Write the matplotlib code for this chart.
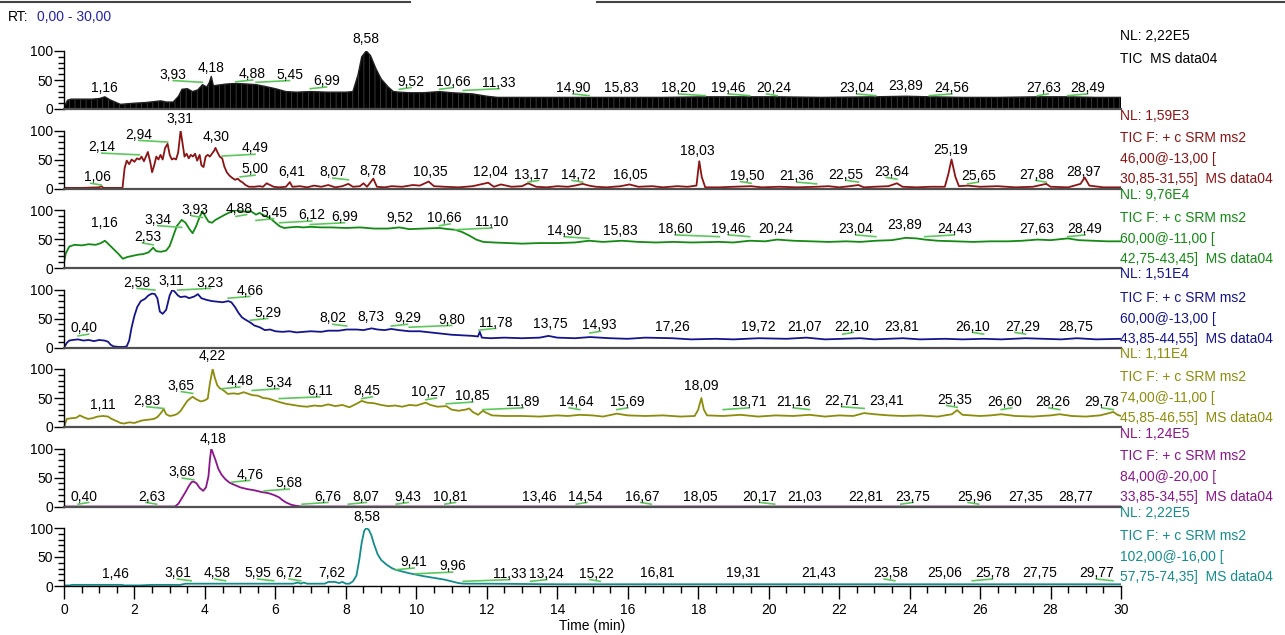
import matplotlib
matplotlib.use("Agg")
import matplotlib.pyplot as plt
from matplotlib.ticker import MultipleLocator, FixedLocator
from matplotlib.lines import Line2D

plt.rcParams['font.family'] = ['Liberation Sans', 'DejaVu Sans']
plt.rcParams['hatch.linewidth'] = 0.5

# --- chromatogram traces (retention time in min, relative abundance in %) ---

tic_t = [0, 0.1, 0.2, 0.5, 0.8, 1.0, 1.16, 1.3, 1.45, 1.6, 1.8, 2.0, 2.3, 2.6, 2.75, 2.9,
         3.1, 3.25, 3.35, 3.5, 3.65, 3.8, 3.93, 4.05, 4.12, 4.18, 4.24, 4.35, 4.6, 4.88,
         5.2, 5.45, 5.7, 6.0, 6.3, 6.6, 6.99, 7.5, 8.0, 8.2, 8.35, 8.45, 8.58, 8.7, 8.85,
         9.0, 9.2, 9.35, 9.52, 9.8, 10.2, 10.66, 11.0, 11.33, 11.6, 12.0, 12.3, 13.0, 14.0,
         14.9, 15.83, 17.0, 18.2, 19.46, 20.24, 21.5, 23.04, 23.89, 24.56, 25.5, 26.5,
         27.63, 28.49, 29.3, 30]
tic_y = [3, 15, 17, 17, 17, 18, 21, 16, 12, 8, 9, 10, 11, 13, 14, 12,
         12, 22, 34, 35, 30, 33, 42, 38, 45, 56, 40, 41, 43, 44,
         43, 42, 39, 35, 30, 29, 30, 29, 29, 30, 60, 90, 100, 92, 70,
         52, 38, 30, 29, 28, 28, 30, 28, 27, 26, 22, 20, 20, 20,
         20, 20, 20, 21, 21, 21, 20, 21, 22, 21, 20, 20,
         21, 21, 20, 20]

m46_t = [0, 0.5, 1.0, 1.06, 1.12, 1.6, 1.66, 1.72, 1.78, 1.85, 1.92, 2.0, 2.07, 2.14, 2.2,
         2.27, 2.33, 2.38, 2.45, 2.5, 2.56, 2.62, 2.68, 2.74, 2.8, 2.87, 2.94, 3.0, 3.06,
         3.12, 3.18, 3.24, 3.31, 3.37, 3.42, 3.48, 3.54, 3.6, 3.66, 3.72, 3.78, 3.85, 3.9,
         3.96, 4.02, 4.08, 4.14, 4.2, 4.26, 4.3, 4.36, 4.42, 4.49, 4.55, 4.62, 4.7, 4.78,
         4.86, 4.93, 5.0, 5.08, 5.15, 5.25, 5.4, 5.55, 5.65, 5.75, 5.85, 5.95, 6.1, 6.3,
         6.41, 6.48, 6.7, 6.9, 7.1, 7.3, 7.5, 7.7, 7.9, 8.07, 8.2, 8.4, 8.5, 8.6, 8.78,
         8.88, 9.1, 9.3, 9.6, 9.9, 10.1, 10.35, 10.5, 10.8, 11.2, 11.6, 12.04, 12.2, 12.4,
         12.7, 13.0, 13.17, 13.4, 13.7, 14.0, 14.3, 14.5, 14.72, 14.9, 15.1, 15.4, 15.8,
         16.05, 16.3, 16.7, 17.0, 17.4, 17.7, 17.95, 18.03, 18.1, 18.2, 18.6, 19.0, 19.5,
         19.8, 20.3, 20.8, 21.36, 21.7, 22.0, 22.3, 22.55, 22.7, 23.0, 23.4, 23.64, 23.8,
         24.2, 24.6, 25.0, 25.1, 25.19, 25.3, 25.4, 25.65, 26.0, 26.5, 27.0, 27.5, 27.88,
         28.0, 28.5, 28.85, 28.97, 29.1, 29.5, 30]
m46_y = [1, 1, 2, 4, 1, 1, 1, 35, 48, 42, 50, 46, 52, 50, 55,
         47, 56, 63, 45, 28, 40, 55, 50, 58, 50, 70, 77, 58, 50,
         52, 50, 62, 100, 75, 55, 60, 52, 58, 55, 60, 48, 58, 40,
         37, 55, 58, 55, 60, 65, 70, 62, 55, 52, 38, 28, 22, 18,
         15, 17, 13, 10, 6, 3, 3, 4, 3, 9, 6, 3, 2, 3,
         11, 3, 4, 2, 5, 3, 6, 2, 4, 8, 3, 4, 9, 3, 17,
         3, 2, 4, 3, 6, 5, 12, 4, 3, 2, 4, 10, 3, 7,
         3, 4, 9, 3, 2, 4, 3, 5, 8, 5, 3, 2, 4,
         7, 3, 4, 2, 4, 3, 5, 47, 20, 2, 2, 3, 4,
         2, 3, 2, 3, 4, 2, 4, 6, 2, 3, 4, 9, 3,
         2, 3, 3, 25, 50, 20, 4, 5, 3, 4, 2, 3, 8,
         3, 2, 8, 19, 5, 2, 2]

m60a_t = [0, 0.05, 0.15, 0.3, 0.5, 0.7, 0.9, 1.05, 1.16, 1.25, 1.4, 1.55, 1.67, 1.8, 1.95,
          2.1, 2.25, 2.4, 2.53, 2.62, 2.75, 2.9, 3.0, 3.1, 3.2, 3.34, 3.45, 3.55, 3.65, 3.75,
          3.85, 3.93, 4.0, 4.1, 4.2, 4.3, 4.45, 4.6, 4.75, 4.88, 5.0, 5.15, 5.3, 5.45, 5.55,
          5.7, 5.85, 6.0, 6.12, 6.25, 6.4, 6.6, 6.8, 6.99, 7.3, 7.6, 8.0, 8.4, 8.8, 9.2,
          9.52, 9.8, 10.2, 10.66, 10.9, 11.1, 11.3, 11.5, 11.7, 11.9, 12.2, 12.6, 13.0, 13.5,
          14.0, 14.5, 14.9, 15.3, 15.83, 16.3, 16.8, 17.3, 17.8, 18.6, 19.0, 19.46, 19.9,
          20.24, 20.7, 21.2, 21.7, 22.2, 22.6, 23.04, 23.5, 23.89, 24.2, 24.43, 24.8, 25.3,
          25.8, 26.3, 26.8, 27.2, 27.63, 28.0, 28.49, 28.8, 29.2, 29.6, 30]
m60a_y = [10, 25, 37, 40, 39, 41, 40, 43, 47, 42, 33, 24, 16, 19, 21,
          23, 24, 27, 35, 29, 28, 30, 38, 55, 72, 83, 78, 68, 60, 72,
          88, 98, 90, 80, 78, 83, 88, 93, 97, 100, 98, 97, 98, 92, 95,
          90, 86, 78, 72, 69, 70, 71, 70, 71, 70, 70, 69, 70, 68, 68,
          70, 67, 68, 69, 67, 66, 62, 56, 49, 45, 44, 43, 42, 43,
          43, 44, 47, 45, 47, 45, 44, 45, 44, 45, 44, 47, 46,
          49, 47, 46, 45, 46, 45, 47, 48, 52, 51, 49, 47, 46,
          45, 46, 46, 47, 49, 48, 51, 48, 47, 46, 46]

m60b_t = [0, 0.08, 0.15, 0.25, 0.4, 0.55, 0.7, 0.85, 1.0, 1.15, 1.25, 1.32, 1.4, 1.55, 1.7,
          1.78, 1.85, 1.92, 2.0, 2.08, 2.18, 2.3, 2.4, 2.5, 2.58, 2.65, 2.72, 2.8, 2.9, 3.0,
          3.08, 3.16, 3.23, 3.3, 3.45, 3.55, 3.7, 3.8, 3.9, 4.05, 4.2, 4.35, 4.5, 4.66, 4.75,
          4.85, 4.95, 5.05, 5.15, 5.29, 5.4, 5.55, 5.7, 5.85, 6.0, 6.2, 6.4, 6.6, 6.8, 7.0,
          7.3, 7.5, 7.8, 8.02, 8.3, 8.5, 8.73, 8.9, 9.1, 9.29, 9.5, 9.8, 10.1, 10.4, 10.7,
          11.0, 11.3, 11.6, 11.75, 11.8, 11.86, 12.1, 12.5, 13.0, 13.5, 13.75, 14.0, 14.5,
          14.93, 15.5, 16.0, 16.5, 17.26, 17.8, 18.5, 19.0, 19.72, 20.5, 21.07, 21.6, 22.1,
          22.6, 23.0, 23.81, 24.3, 25.0, 25.5, 26.1, 26.6, 27.29, 27.8, 28.3, 28.75, 29.3, 30]
m60b_y = [0, 8, 12, 13, 14, 12, 13, 11, 13, 12, 10, 5, 2, 1, 1,
          2, 12, 35, 55, 70, 80, 84, 90, 93, 92, 85, 62, 58, 65, 90,
          100, 95, 90, 87, 88, 85, 88, 92, 85, 82, 80, 79, 78, 80, 78,
          70, 60, 52, 48, 43, 38, 35, 30, 31, 28, 27, 28, 26, 27, 28,
          27, 29, 29, 31, 31, 30, 33, 31, 30, 32, 30, 28, 28, 26, 24,
          22, 21, 20, 19, 27, 17, 16, 17, 16, 17, 20, 17, 16,
          18, 16, 15, 17, 16, 14, 15, 14, 16, 15, 17, 14, 15,
          16, 14, 16, 14, 15, 14, 15, 14, 16, 15, 14, 16, 14, 15]

m74_t = [0, 0.08, 0.2, 0.35, 0.45, 0.55, 0.68, 0.8, 0.95, 1.11, 1.25, 1.35, 1.5, 1.6, 1.7,
         1.85, 2.0, 2.1, 2.2, 2.3, 2.45, 2.55, 2.65, 2.75, 2.83, 2.9, 3.0, 3.1, 3.2, 3.3,
         3.4, 3.5, 3.6, 3.65, 3.75, 3.88, 4.0, 4.08, 4.14, 4.22, 4.28, 4.35, 4.42, 4.48,
         4.55, 4.65, 4.8, 4.95, 5.1, 5.2, 5.34, 5.5, 5.65, 5.8, 5.95, 6.11, 6.3, 6.5, 6.7,
         6.9, 7.1, 7.3, 7.5, 7.7, 7.9, 8.1, 8.3, 8.45, 8.6, 8.8, 9.0, 9.2, 9.4, 9.6, 9.8,
         10.0, 10.27, 10.4, 10.6, 10.85, 11.0, 11.2, 11.4, 11.5, 11.6, 11.75, 11.89, 12.0,
         12.15, 12.5, 13.0, 13.5, 14.0, 14.3, 14.64, 15.0, 15.3, 15.69, 16.0, 16.5, 17.0,
         17.5, 17.9, 18.0, 18.09, 18.16, 18.25, 18.71, 19.2, 19.7, 20.2, 20.7, 21.16, 21.6,
         22.0, 22.4, 22.71, 23.0, 23.41, 23.8, 24.3, 24.8, 25.2, 25.35, 25.5, 26.0, 26.3,
         26.6, 27.0, 27.5, 28.0, 28.26, 28.6, 29.0, 29.4, 29.6, 29.78, 29.9, 30]
m74_y = [0, 14, 15, 16, 20, 17, 14, 15, 18, 19, 18, 14, 10, 7, 6,
         8, 7, 9, 11, 12, 13, 14, 17, 24, 31, 22, 19, 20, 22, 27,
         36, 45, 50, 52, 48, 44, 46, 49, 75, 100, 85, 72, 67, 65,
         62, 57, 58, 57, 60, 58, 55, 54, 50, 49, 46, 43, 40, 38, 36,
         35, 37, 36, 39, 36, 38, 34, 40, 45, 42, 41, 38, 36, 37, 35, 38,
         37, 42, 38, 35, 36, 30, 28, 30, 32, 26, 21, 28, 24,
         20, 19, 19, 18, 20, 19, 21, 20, 18, 23, 20, 19, 20,
         18, 19, 30, 50, 30, 20, 19, 21, 18, 20, 19, 21, 18,
         20, 19, 24, 22, 20, 19, 20, 18, 22, 29, 21, 19, 20,
         22, 19, 18, 20, 22, 19, 18, 20, 23, 26, 21, 19]

m84_t = [0, 3.15, 3.25, 3.35, 3.45, 3.55, 3.62, 3.68, 3.76, 3.85, 3.95, 4.03, 4.1, 4.14,
         4.18, 4.24, 4.3, 4.38, 4.47, 4.58, 4.7, 4.85, 5.0, 5.2, 5.4, 5.6, 5.8, 5.95, 6.1,
         6.2, 6.3, 6.45, 6.6, 6.75, 30]
m84_y = [0, 0, 5, 15, 25, 36, 42, 43, 40, 32, 27, 33, 52, 80,
         100, 90, 80, 65, 55, 47, 41, 37, 33, 30, 28, 25, 23, 20, 16,
         11, 7, 3, 1, 0, 0]

m102_t = [0, 0.15, 0.25, 1.0, 1.46, 1.65, 1.7, 2.1, 2.15, 2.5, 3.3, 3.45, 4.0, 4.58, 5.0,
          5.95, 6.5, 6.65, 6.72, 6.8, 6.9, 7.4, 7.5, 7.7, 7.8, 7.9, 8.0, 8.1, 8.2, 8.3, 8.38,
          8.45, 8.52, 8.58, 8.65, 8.72, 8.8, 8.9, 9.0, 9.15, 9.3, 9.41, 9.6, 9.8, 9.96, 10.2,
          10.5, 10.8, 11.0, 11.2, 11.35, 12, 14, 16, 18, 20, 22, 24, 26, 28, 30]
m102_y = [1, 1, 2, 2, 2, 2, 1, 1, 1, 2, 2, 4, 4, 4, 4,
          4, 4, 6, 4, 6, 4, 4, 7, 7, 5, 7, 4, 4, 8, 18, 45,
          75, 95, 100, 97, 88, 72, 55, 45, 37, 31, 28, 25, 22, 20, 17,
          14, 11, 8, 5, 4, 4, 3, 3, 3, 3, 3, 3, 3, 3, 3]

# --- labelled peak retention times per trace ---
tic_peaks = [1.16, 3.93, 4.18, 4.88, 5.45, 6.99, 8.58, 9.52, 10.66, 11.33, 14.90, 15.83,
             18.20, 19.46, 20.24, 23.04, 23.89, 24.56, 27.63, 28.49]
m46_peaks = [1.06, 2.14, 2.94, 3.31, 4.30, 4.49, 5.00, 6.41, 8.07, 8.78, 10.35, 12.04,
             13.17, 14.72, 16.05, 18.03, 19.50, 21.36, 22.55, 23.64, 25.19, 25.65, 27.88, 28.97]
m60a_peaks = [1.16, 2.53, 3.34, 3.93, 4.88, 5.45, 6.12, 6.99, 9.52, 10.66, 11.10, 14.90,
              15.83, 18.60, 19.46, 20.24, 23.04, 23.89, 24.43, 27.63, 28.49]
m60b_peaks = [0.40, 2.58, 3.11, 3.23, 4.66, 5.29, 8.02, 8.73, 9.29, 9.80, 11.78, 13.75,
              14.93, 17.26, 19.72, 21.07, 22.10, 23.81, 26.10, 27.29, 28.75]
m74_peaks = [1.11, 2.83, 3.65, 4.22, 4.48, 5.34, 6.11, 8.45, 10.27, 10.85, 11.89, 14.64,
             15.69, 18.09, 18.71, 21.16, 22.71, 23.41, 25.35, 26.60, 28.26, 29.78]
m84_peaks = [0.40, 2.63, 3.68, 4.18, 4.76, 5.68, 6.76, 8.07, 9.43, 10.81, 13.46, 14.54,
             16.67, 18.05, 20.17, 21.03, 22.81, 23.75, 25.96, 27.35, 28.77]
m102_peaks = [1.46, 3.61, 4.58, 5.95, 6.72, 7.62, 8.58, 9.41, 9.96, 11.33, 13.24, 15.22,
              16.81, 19.31, 21.43, 23.58, 25.06, 25.78, 27.75, 29.77]

# label placement (time, height) so the peak labels don't collide
tic_lab = [(1.16, 36), (3.1, 59), (4.17, 71), (5.35, 60), (6.4, 59), (7.45, 48), (8.58, 121),
           (9.85, 47), (11.05, 47), (12.35, 45), (14.45, 36), (15.83, 36), (17.45, 36),
           (18.85, 36), (20.15, 36), (22.5, 36), (23.9, 40), (25.2, 36), (27.8, 36), (29.05, 36)]
m46_lab = [(0.95, 19), (1.07, 71), (2.12, 93), (3.3, 119), (4.33, 88), (5.42, 69), (5.42, 33),
           (6.47, 29), (7.63, 28), (8.78, 31), (10.4, 29), (12.1, 28), (13.26, 24), (14.6, 24),
           (16.08, 24), (17.98, 64), (19.4, 22), (20.8, 21), (22.2, 24), (23.5, 29),
           (25.17, 67), (25.95, 21), (27.6, 24), (28.95, 29)]
m60a_lab = [(1.15, 78), (2.37, 53), (2.66, 83), (3.71, 100), (4.98, 102), (5.95, 95),
            (7.03, 91), (7.96, 88), (9.54, 86), (10.8, 86), (12.15, 79), (14.2, 64), (15.8, 64),
            (17.35, 67), (18.86, 67), (20.2, 67), (22.47, 67), (23.87, 74), (25.27, 67),
            (27.6, 67), (28.98, 67)]
m60b_lab = [(0.57, 33), (2.08, 112), (3.05, 114), (4.15, 112), (5.27, 98), (5.78, 60),
            (7.63, 50), (8.72, 52), (9.75, 50), (11.0, 48), (12.25, 43), (13.8, 41), (15.2, 38),
            (17.27, 36), (19.7, 36), (21.03, 36), (22.37, 36), (23.76, 36), (25.8, 36),
            (27.2, 36), (28.7, 36)]
m74_lab = [(1.09, 38), (2.35, 45), (3.33, 71), (4.22, 122), (4.99, 79), (6.1, 76), (7.26, 62),
           (8.6, 62), (10.35, 60), (11.6, 53), (13.03, 43), (14.54, 43), (16.0, 43), (18.09, 71),
           (19.45, 43), (20.7, 43), (22.07, 45), (23.35, 45), (25.27, 47), (26.7, 43),
           (28.07, 43), (29.46, 43)]
m84_lab = [(0.57, 17), (2.49, 17), (3.36, 59), (4.22, 117), (5.27, 55), (6.39, 40), (7.49, 17),
           (8.58, 17), (9.77, 17), (10.97, 17), (13.49, 17), (14.8, 17), (16.4, 17), (18.05, 17),
           (19.75, 17), (21.03, 17), (22.75, 17), (24.1, 17), (25.85, 17), (27.3, 17),
           (28.72, 17)]
m102_lab = [(1.46, 21), (3.22, 22), (4.35, 22), (5.5, 22), (6.39, 22), (7.61, 22), (8.6, 119),
            (9.94, 41), (11.03, 34), (12.65, 21), (13.7, 21), (15.12, 21), (16.83, 22),
            (19.27, 22), (21.43, 22), (23.47, 22), (25.0, 22), (26.35, 22), (27.7, 22), (29.3, 22)]

# header text on the right of every trace
tic_info = ["NL: 2,22E5", "TIC  MS data04"]
m46_info = ["NL: 1,59E3", "TIC F: + c SRM ms2", "46,00@-13,00 [", "30,85-31,55]  MS data04"]
m60a_info = ["NL: 9,76E4", "TIC F: + c SRM ms2", "60,00@-11,00 [", "42,75-43,45]  MS data04"]
m60b_info = ["NL: 1,51E4", "TIC F: + c SRM ms2", "60,00@-13,00 [", "43,85-44,55]  MS data04"]
m74_info = ["NL: 1,11E4", "TIC F: + c SRM ms2", "74,00@-11,00 [", "45,85-46,55]  MS data04"]
m84_info = ["NL: 1,24E5", "TIC F: + c SRM ms2", "84,00@-20,00 [", "33,85-34,55]  MS data04"]
m102_info = ["NL: 2,22E5", "TIC F: + c SRM ms2", "102,00@-16,00 [", "57,75-74,35]  MS data04"]

panels = [
    (tic_t, tic_y, tic_peaks, tic_lab, tic_info, 'black'),
    (m46_t, m46_y, m46_peaks, m46_lab, m46_info, '#8c1414'),
    (m60a_t, m60a_y, m60a_peaks, m60a_lab, m60a_info, '#138a13'),
    (m60b_t, m60b_y, m60b_peaks, m60b_lab, m60b_info, '#14148c'),
    (m74_t, m74_y, m74_peaks, m74_lab, m74_info, '#8c8c0a'),
    (m84_t, m84_y, m84_peaks, m84_lab, m84_info, '#8c148c'),
    (m102_t, m102_y, m102_peaks, m102_lab, m102_info, '#148c8c'),
]

W, H = 1285, 635
fig = plt.figure(figsize=(W / 100, H / 100), dpi=100)

x_left, x_right = 64, 1121
leader_color = '#5cc85c'

for i, (t, y, peaks, labs, info, color) in enumerate(panels):
    y0 = 109 + 79.5 * i          # pixel row of 0 %
    ax = fig.add_axes([x_left / W, 1 - y0 / H, (x_right - x_left) / W, 58 / H])
    ax.set_xlim(0, 30)
    ax.set_ylim(0, 100)

    if i == 0:
        # TIC is drawn as a filled profile
        ax.fill_between(t, 0, y, facecolor='black', edgecolor='0.3', hatch='|||',
                        linewidth=0)
        ax.plot(t, y, color='#222222', lw=1.0)
    else:
        ax.plot(t, y, color=color, lw=1.3)

    for rt, (lx, ly) in zip(peaks, labs):
        ax.text(lx, ly, f"{rt:.2f}".replace('.', ','), ha='center', va='center',
                fontsize=10, color='black', clip_on=False)
        d = lx - rt
        if abs(d) >= 0.08:
            end = lx if abs(d) >= 0.3 else rt + 0.3 * (1 if d > 0 else -1)
            ax.add_line(Line2D([rt, end], [ly - 13, ly - 10], color=leader_color,
                               lw=1.2, clip_on=False))

    for s in ['top', 'right']:
        ax.spines[s].set_visible(False)
    ax.spines['left'].set_linewidth(1.0)
    ax.yaxis.set_major_locator(FixedLocator([0, 50, 100]))
    ax.yaxis.set_minor_locator(MultipleLocator(10))
    ax.tick_params(axis='y', which='major', length=7, width=1, labelsize=10, pad=1)
    ax.tick_params(axis='y', which='minor', length=4, width=1)

    if i < len(panels) - 1:
        ax.spines['bottom'].set_color('#505050')
        ax.spines['bottom'].set_linewidth(1.6)
        ax.set_xticks([])
    else:
        ax.spines['bottom'].set_linewidth(1.0)
        ax.xaxis.set_major_locator(MultipleLocator(2))
        ax.xaxis.set_minor_locator(MultipleLocator(0.5))
        ax.tick_params(axis='x', which='major', length=9, width=1, labelsize=10, pad=3)
        ax.tick_params(axis='x', which='minor', length=5, width=1)
        ax.set_xlabel("Time (min)", fontsize=10, labelpad=2)

    offsets = [-73, -50, -29, -9]
    for k, line in enumerate(info):
        fig.text(1120 / W, 1 - (y0 + offsets[k]) / H, line, ha='left', va='center',
                 fontsize=10, color=color)

# header
fig.text(8 / W, 1 - 17 / H, "RT:", ha='left', va='center', fontsize=10, color='black')
fig.text(37 / W, 1 - 17 / H, "0,00 - 30,00", ha='left', va='center', fontsize=10,
         color='#2222aa')
fig.add_artist(Line2D([0, 410 / W], [1 - 1.5 / H] * 2, color='#444444', lw=1.5))
fig.add_artist(Line2D([597 / W, 1], [1 - 1.5 / H] * 2, color='#444444', lw=1.5))

fig.savefig("out.png", dpi=100)
